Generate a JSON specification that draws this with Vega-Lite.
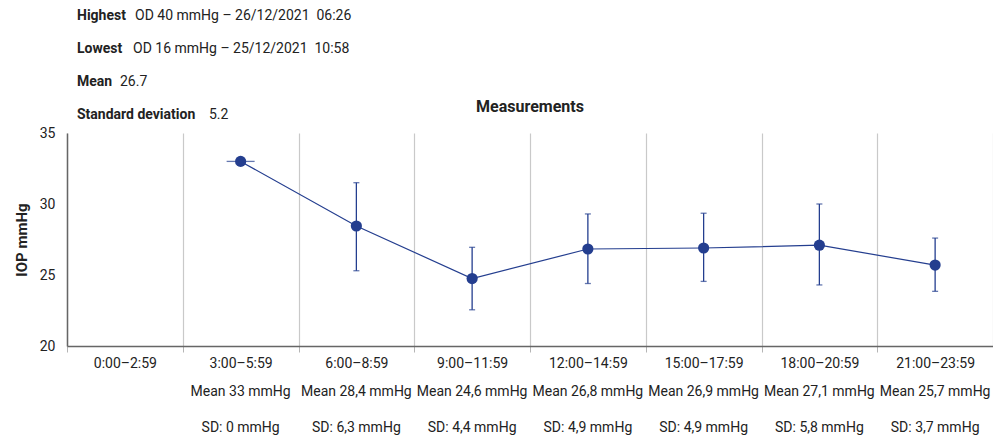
{
  "$schema": "https://vega.github.io/schema/vega-lite/v6.json",
  "padding": {"left": 14, "top": 0, "right": 0, "bottom": 0},
  "background": "white",
  "config": {
    "view": {"stroke": null},
    "font": "Roboto",
    "axisX": {"tickBand": "extent", "grid": true, "gridColor": "#c9c9c9", "gridWidth": 1.2, "tickColor": "#b5b5b5", "tickSize": 6, "domainColor": "#666666", "domainWidth": 1.5, "labelAngle": 0, "labelFontSize": 14, "labelColor": "#222222", "labelPadding": 4, "labelFont": "Roboto", "title": null},
    "axisY": {"grid": false, "ticks": false, "labelPadding": 12, "domainColor": "#666666", "domainWidth": 1.5, "labelFontSize": 14, "labelColor": "#222222", "labelFont": "Roboto", "titleFontSize": 15, "titleFontWeight": "bold", "titleColor": "#222222", "titleFont": "Roboto", "titlePadding": 10}
  },
  "datasets": {
    "header": [
      {"row": 1, "label": "Highest", "value": "OD 40 mmHg – 26/12/2021\u00a0 06:26"},
      {"row": 2, "label": "Lowest", "value": "OD 16 mmHg – 25/12/2021\u00a0 10:58"},
      {"row": 3, "label": "Mean", "value": "26.7"},
      {"row": 4, "label": "Standard deviation", "value": "5.2"}
    ],
    "slots": [
      {"slot": "0:00–2:59", "mean": null, "lower": null, "upper": null, "meanText": null, "sdText": null},
      {"slot": "3:00–5:59", "mean": 33, "lower": 33, "upper": 33, "meanText": "Mean 33 mmHg", "sdText": "SD: 0 mmHg"},
      {"slot": "6:00–8:59", "mean": 28.45, "lower": 25.3, "upper": 31.5, "meanText": "Mean 28,4 mmHg", "sdText": "SD: 6,3 mmHg"},
      {"slot": "9:00–11:59", "mean": 24.75, "lower": 22.55, "upper": 26.95, "meanText": "Mean 24,6 mmHg", "sdText": "SD: 4,4 mmHg"},
      {"slot": "12:00–14:59", "mean": 26.83, "lower": 24.4, "upper": 29.3, "meanText": "Mean 26,8 mmHg", "sdText": "SD: 4,9 mmHg"},
      {"slot": "15:00–17:59", "mean": 26.9, "lower": 24.55, "upper": 29.35, "meanText": "Mean 26,9 mmHg", "sdText": "SD: 4,9 mmHg"},
      {"slot": "18:00–20:59", "mean": 27.1, "lower": 24.3, "upper": 30.0, "meanText": "Mean 27,1 mmHg", "sdText": "SD: 5,8 mmHg"},
      {"slot": "21:00–23:59", "mean": 25.7, "lower": 23.85, "upper": 27.6, "meanText": "Mean 25,7 mmHg", "sdText": "SD: 3,7 mmHg"}
    ]
  },
  "bounds": "flush",
  "spacing": 2,
  "vconcat": [
    {
      "width": 926,
      "height": 131,
      "data": {"name": "header"},
      "encoding": {
        "y": {"field": "row", "type": "ordinal", "axis": null, "scale": {"type": "point", "padding": 0.5}}
      },
      "layer": [
        {"mark": {"type": "text", "x": 10, "align": "left", "baseline": "middle", "fontWeight": "bold", "fontSize": 14, "color": "#222222"}, "encoding": {"text": {"field": "label"}}},
        {"transform": [{"filter": "datum.row == 1"}], "mark": {"type": "text", "x": 68, "align": "left", "baseline": "middle", "fontSize": 14, "color": "#222222"}, "encoding": {"text": {"field": "value"}}},
        {"transform": [{"filter": "datum.row == 2"}], "mark": {"type": "text", "x": 66, "align": "left", "baseline": "middle", "fontSize": 14, "color": "#222222"}, "encoding": {"text": {"field": "value"}}},
        {"transform": [{"filter": "datum.row == 3"}], "mark": {"type": "text", "x": 53, "align": "left", "baseline": "middle", "fontSize": 14, "color": "#222222"}, "encoding": {"text": {"field": "value"}}},
        {"transform": [{"filter": "datum.row == 4"}], "mark": {"type": "text", "x": 142, "align": "left", "baseline": "middle", "fontSize": 14, "color": "#222222"}, "encoding": {"text": {"field": "value"}}}
      ]
    },
    {
      "bounds": "flush",
      "spacing": 46,
      "vconcat": [
        {
          "width": 926,
          "height": 213,
          "data": {"name": "slots"},
          "title": {"text": "Measurements", "fontSize": 16, "fontWeight": "bold", "font": "Roboto", "color": "#222222", "anchor": "middle", "offset": -2, "baseline": "alphabetic"},
          "layer": [
            {
              "mark": {"type": "line", "color": "#243e8f", "strokeWidth": 1.2},
              "encoding": {
                "x": {"field": "slot", "type": "nominal", "scale": {"domain": ["0:00–2:59", "3:00–5:59", "6:00–8:59", "9:00–11:59", "12:00–14:59", "15:00–17:59", "18:00–20:59", "21:00–23:59"], "paddingInner": 0, "paddingOuter": 0}},
                "y": {"field": "mean", "type": "quantitative", "title": "IOP mmHg", "scale": {"domain": [20, 35], "nice": false, "zero": false}, "axis": {"values": [20, 25, 30, 35]}}
              }
            },
            {
              "transform": [{"filter": "datum.upper > datum.lower"}],
              "mark": {"type": "errorbar", "color": "#243e8f", "ticks": {"size": 6, "thickness": 1.3}, "rule": {"strokeWidth": 1.3}},
              "encoding": {
                "x": {"field": "slot", "type": "nominal"},
                "y": {"field": "lower", "type": "quantitative", "title": "IOP mmHg"},
                "y2": {"field": "upper"}
              }
            },
            {
              "transform": [{"filter": "datum.upper != null && datum.upper == datum.lower"}],
              "mark": {"type": "tick", "orient": "horizontal", "color": "#243e8f", "size": 28, "thickness": 1.3},
              "encoding": {
                "x": {"field": "slot", "type": "nominal"},
                "y": {"field": "mean", "type": "quantitative", "title": "IOP mmHg"}
              }
            },
            {
              "mark": {"type": "point", "filled": true, "opacity": 1, "color": "#243e8f", "size": 125},
              "encoding": {
                "x": {"field": "slot", "type": "nominal"},
                "y": {"field": "mean", "type": "quantitative", "title": "IOP mmHg"}
              }
            }
          ]
        },
        {
          "width": 926,
          "height": 36,
          "data": {"name": "slots"},
          "transform": [{"filter": "datum.meanText != null"}, {"fold": ["meanText", "sdText"], "as": ["line", "text"]}],
          "mark": {"type": "text", "fontSize": 14, "color": "#222222", "baseline": "middle"},
          "encoding": {
            "x": {"field": "slot", "type": "nominal", "axis": null, "scale": {"domain": ["0:00–2:59", "3:00–5:59", "6:00–8:59", "9:00–11:59", "12:00–14:59", "15:00–17:59", "18:00–20:59", "21:00–23:59"], "paddingInner": 0, "paddingOuter": 0}},
            "y": {"field": "line", "type": "nominal", "axis": null, "scale": {"type": "point", "padding": 0, "domain": ["meanText", "sdText"]}},
            "text": {"field": "text", "type": "nominal"}
          }
        }
      ]
    }
  ]
}
